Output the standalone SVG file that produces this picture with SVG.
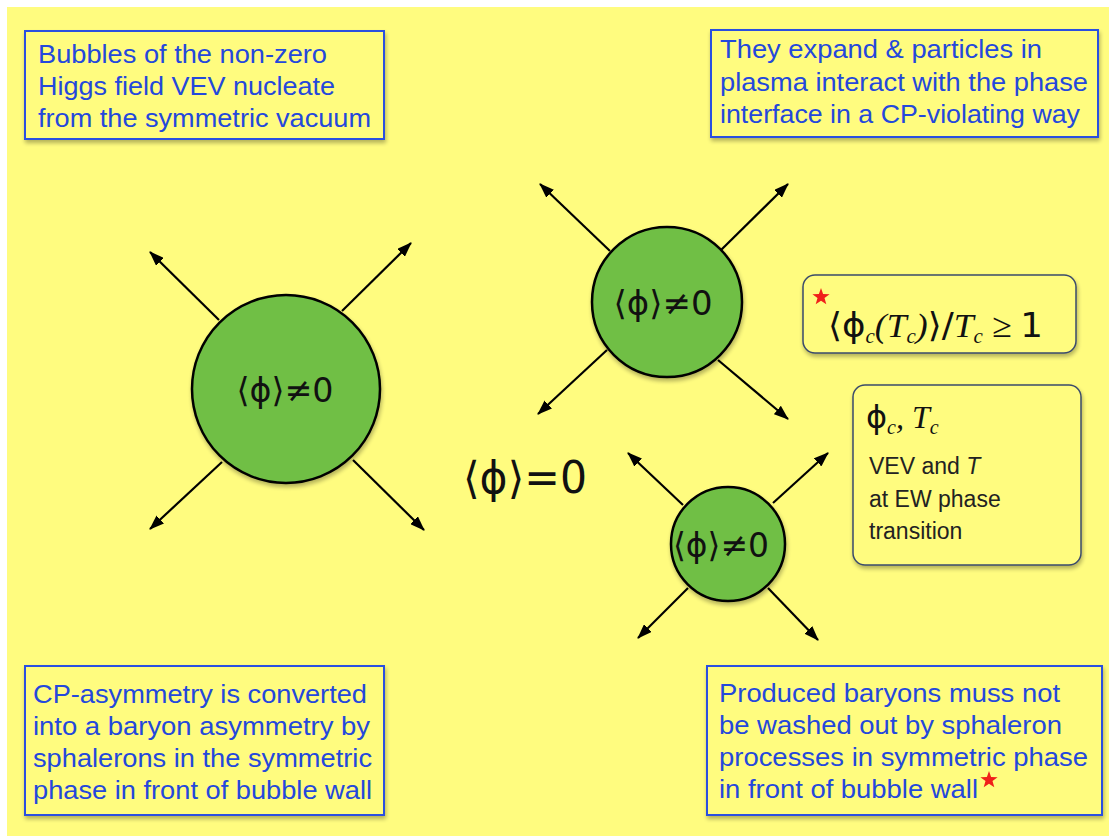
<svg xmlns="http://www.w3.org/2000/svg" width="1109" height="836" viewBox="0 0 1109 836">
<style>
.bg{fill:#fffc7f}
.note{fill:#fffc7f;stroke:#2c4fe0;stroke-width:2}
.nt{font-family:"Liberation Sans",Arial,sans-serif;font-size:25px;fill:#2448dc}
.rbox{fill:#fffc7f;stroke:#3b4b6b;stroke-width:1.5}
.dt{font-family:"Liberation Sans",Arial,sans-serif;font-size:23px;fill:#222}
.bub{fill:#6fbf44;stroke:#000;stroke-width:2.5}
.math{font-family:"DejaVu Sans","Noto Sans",sans-serif;fill:#111}
.ser{font-family:"Liberation Serif","DejaVu Serif",serif;font-style:italic}
.arr{stroke:#000;stroke-width:2.2;fill:none;marker-end:url(#ah)}
</style>
<defs>
<marker id="ah" viewBox="0 0 15 11" refX="14" refY="5.5" markerWidth="15" markerHeight="11" markerUnits="userSpaceOnUse" orient="auto">
<path d="M0,0 L15,5.5 L0,11 Z" fill="#000"/>
</marker>
<filter id="sh" x="-10%" y="-10%" width="120%" height="130%">
<feGaussianBlur in="SourceAlpha" stdDeviation="2"/>
<feOffset dx="1" dy="3" result="b"/>
<feComponentTransfer><feFuncA type="linear" slope="0.3"/></feComponentTransfer>
<feMerge><feMergeNode/><feMergeNode in="SourceGraphic"/></feMerge>
</filter>
<path id="star" d="M0,-9 L2.1,-2.9 L8.6,-2.8 L3.5,1.1 L5.3,7.3 L0,3.7 L-5.3,7.3 L-3.5,1.1 L-8.6,-2.8 L-2.1,-2.9 Z" fill="#f0201a"/>
</defs>
<rect x="0" y="0" width="1109" height="836" fill="#ffffff"/>
<rect class="bg" x="7" y="7" width="1102" height="829"/>

<g id="connectors">
<line class="arr" x1="219" y1="320" x2="150" y2="252"/>
<line class="arr" x1="342" y1="311" x2="411" y2="243"/>
<line class="arr" x1="222" y1="462" x2="150" y2="529"/>
<line class="arr" x1="353" y1="460" x2="424" y2="530"/>
<line class="arr" x1="610" y1="251" x2="540" y2="184"/>
<line class="arr" x1="720" y1="251" x2="788" y2="184"/>
<line class="arr" x1="607" y1="350" x2="538" y2="414"/>
<line class="arr" x1="718" y1="360" x2="788" y2="419"/>
<line class="arr" x1="683" y1="505" x2="628" y2="453"/>
<line class="arr" x1="773" y1="503" x2="828" y2="453"/>
<line class="arr" x1="688" y1="588" x2="638" y2="638"/>
<line class="arr" x1="768" y1="588" x2="818" y2="640"/>
</g>

<g id="bubble-large">
<circle class="bub" cx="286" cy="389" r="94" filter="url(#sh)"/>
<text class="math" x="285" y="402" font-size="34" text-anchor="middle" textLength="97" lengthAdjust="spacingAndGlyphs">⟨ϕ⟩≠0</text>
</g>
<g id="bubble-medium">
<circle class="bub" cx="667" cy="302" r="75" filter="url(#sh)"/>
<text class="math" x="663" y="315" font-size="34" text-anchor="middle" textLength="99" lengthAdjust="spacingAndGlyphs">⟨ϕ⟩≠0</text>
</g>
<g id="bubble-small">
<circle class="bub" cx="728" cy="544" r="57" filter="url(#sh)"/>
<text class="math" x="721" y="557" font-size="34" text-anchor="middle" textLength="96" lengthAdjust="spacingAndGlyphs">⟨ϕ⟩≠0</text>
</g>

<g id="symmetric-label">
<text class="math" x="525" y="493" font-size="44" text-anchor="middle" textLength="124" lengthAdjust="spacingAndGlyphs">⟨ϕ⟩=0</text>
</g>

<g id="note-nucleate">
<rect class="note" x="25" y="31" width="359" height="108" filter="url(#sh)"/>
<text class="nt" x="38" y="63" textLength="289" lengthAdjust="spacingAndGlyphs">Bubbles of the non-zero</text>
<text class="nt" x="38" y="95" textLength="297" lengthAdjust="spacingAndGlyphs">Higgs field VEV nucleate</text>
<text class="nt" x="38" y="127" textLength="333" lengthAdjust="spacingAndGlyphs">from the symmetric vacuum</text>
</g>

<g id="note-expand">
<rect class="note" x="711" y="30" width="387" height="107" filter="url(#sh)"/>
<text class="nt" x="720" y="58" textLength="322" lengthAdjust="spacingAndGlyphs">They expand &amp; particles in</text>
<text class="nt" x="720" y="91" textLength="368" lengthAdjust="spacingAndGlyphs">plasma interact with the phase</text>
<text class="nt" x="720" y="123" textLength="360" lengthAdjust="spacingAndGlyphs">interface in a CP-violating way</text>
</g>

<g id="note-sphaleron">
<rect class="note" x="25" y="666" width="359" height="149" filter="url(#sh)"/>
<text class="nt" x="33" y="703" textLength="334" lengthAdjust="spacingAndGlyphs">CP-asymmetry is converted</text>
<text class="nt" x="33" y="735" textLength="337" lengthAdjust="spacingAndGlyphs">into a baryon asymmetry by</text>
<text class="nt" x="33" y="767" textLength="339" lengthAdjust="spacingAndGlyphs">sphalerons in the symmetric</text>
<text class="nt" x="33" y="799" textLength="339" lengthAdjust="spacingAndGlyphs">phase in front of bubble wall</text>
</g>

<g id="note-washout">
<rect class="note" x="707" y="666" width="395" height="149" filter="url(#sh)"/>
<text class="nt" x="719" y="702" textLength="341" lengthAdjust="spacingAndGlyphs">Produced baryons muss not</text>
<text class="nt" x="719" y="734" textLength="343" lengthAdjust="spacingAndGlyphs">be washed out by sphaleron</text>
<text class="nt" x="719" y="766" textLength="369" lengthAdjust="spacingAndGlyphs">processes in symmetric phase</text>
<text class="nt" x="719" y="798" textLength="259" lengthAdjust="spacingAndGlyphs">in front of bubble wall</text>
<use href="#star" x="989" y="780"/>
</g>

<g id="box-criterion">
<rect class="rbox" x="803" y="275" width="273" height="78" rx="12" filter="url(#sh)"/>
<use href="#star" x="821" y="297"/>
<text class="math" x="828" y="337" font-size="34" textLength="215" lengthAdjust="spacingAndGlyphs">⟨ϕ<tspan class="ser" font-size="20" dy="6">c</tspan><tspan class="ser" font-style="normal" dy="-6">(</tspan><tspan class="ser">T</tspan><tspan class="ser" font-size="20" dy="6">c</tspan><tspan class="ser" font-style="normal" dy="-6">)</tspan>⟩/<tspan class="ser">T</tspan><tspan class="ser" font-size="20" dy="6">c</tspan><tspan class="ser" font-style="normal" dy="-6"> ≥ </tspan>1</text>
</g>

<g id="box-definition">
<rect class="rbox" x="853" y="385" width="228" height="180" rx="12" filter="url(#sh)"/>
<text class="math" x="866" y="428" font-size="32">ϕ<tspan class="ser" font-size="20" dy="6">c</tspan><tspan class="ser" font-style="normal" dy="-6">, </tspan><tspan class="ser">T</tspan><tspan class="ser" font-size="20" dy="6">c</tspan></text>
<text class="dt" x="869" y="474">VEV and <tspan font-style="italic">T</tspan></text>
<text class="dt" x="869" y="507">at EW phase</text>
<text class="dt" x="869" y="539">transition</text>
</g>
</svg>
